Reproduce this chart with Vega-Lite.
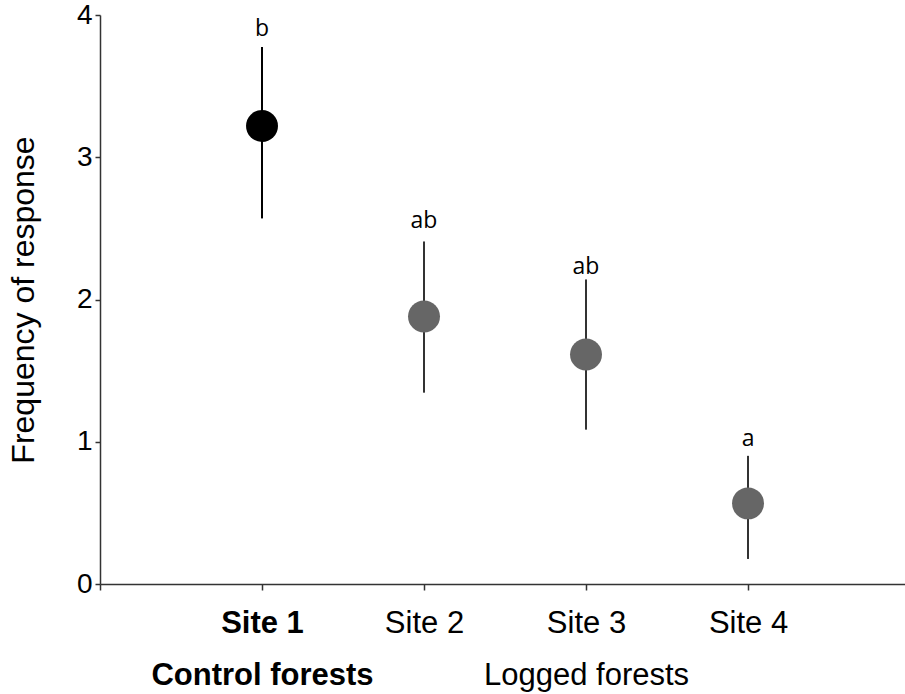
{
  "$schema": "https://vega.github.io/schema/vega-lite/v6.json",
  "width": 805,
  "height": 569,
  "autosize": {"type": "none"},
  "padding": {"left": 100, "top": 15, "right": 0, "bottom": 110},
  "background": "white",
  "config": {"view": {"stroke": null}, "font": "Liberation Sans"},
  "data": {
    "values": [
      {"site": 1, "mean": 3.22, "lower": 2.57, "upper": 3.775, "letter": "b", "letter_y": 3.85},
      {"site": 2, "mean": 1.88, "lower": 1.345, "upper": 2.408, "letter": "ab", "letter_y": 2.5},
      {"site": 3, "mean": 1.613, "lower": 1.085, "upper": 2.141, "letter": "ab", "letter_y": 2.18},
      {"site": 4, "mean": 0.567, "lower": 0.176, "upper": 0.901, "letter": "a", "letter_y": 0.97}
    ]
  },
  "layer": [
    {
      "mark": {"type": "rule", "strokeWidth": 2},
      "encoding": {
        "x": {
          "field": "site",
          "type": "quantitative",
          "title": null,
          "scale": {"domain": [0, 4.969], "nice": false, "zero": false},
          "axis": {
            "values": [0, 1, 2, 3, 4],
            "labelExpr": "datum.value == 0 ? '' : datum.value == 1 ? ['Site 1', 'Control forests'] : datum.value == 3 ? ['Site 3', 'Logged  forests'] : 'Site ' + datum.value",
            "labelFontSize": 31,
            "labelColor": "black",
            "labelFontWeight": {"condition": {"test": "datum.value == 1", "value": "bold"}, "value": "normal"},
            "labelOverlap": false,
            "labelFlush": false,
            "labelBound": false,
            "labelLimit": 0,
            "labelPadding": 18,
            "labelLineHeight": 52,
            "tickSize": 6,
            "tickColor": "#333",
            "tickWidth": 1.5,
            "domainColor": "#333",
            "domainWidth": 1.5,
            "grid": false
          }
        },
        "y": {
          "field": "lower",
          "type": "quantitative",
          "title": "Frequency of response",
          "scale": {"domain": [0, 4], "nice": false},
          "axis": {
            "values": [0, 1, 2, 3, 4],
            "format": "d",
            "labelFontSize": 28,
            "labelColor": "black",
            "labelPadding": 3,
            "tickSize": 5,
            "tickColor": "#333",
            "tickWidth": 1.5,
            "domainColor": "#333",
            "domainWidth": 1.5,
            "grid": false,
            "titleFontSize": 32,
            "titleFontWeight": "normal",
            "titleColor": "black",
            "titlePadding": 36
          }
        },
        "y2": {"field": "upper"},
        "color": {"condition": {"test": "datum.site == 1", "value": "#000000"}, "value": "#333333"}
      }
    },
    {
      "mark": {"type": "point", "filled": true, "shape": "circle", "size": 1020, "opacity": 1},
      "encoding": {
        "x": {"field": "site", "type": "quantitative", "title": null},
        "y": {"field": "mean", "type": "quantitative", "title": "Frequency of response"},
        "color": {"condition": {"test": "datum.site == 1", "value": "#000000"}, "value": "#666666"}
      }
    },
    {
      "mark": {"type": "text", "font": "Open Sans", "fontSize": 23, "baseline": "alphabetic", "align": "center", "color": "black"},
      "encoding": {
        "x": {"field": "site", "type": "quantitative", "title": null},
        "y": {"field": "letter_y", "type": "quantitative", "title": "Frequency of response"},
        "text": {"field": "letter"}
      }
    }
  ]
}
